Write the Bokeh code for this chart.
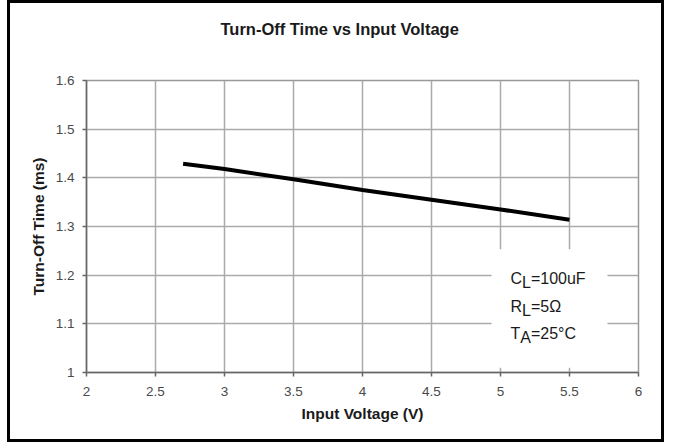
from bokeh.plotting import figure
from bokeh.models import Range1d, FixedTicker, BoxAnnotation, Label, Title
from bokeh.embed import file_html
from bokeh.resources import INLINE

# ---- data ----
volts = [2.7, 3.0, 3.5, 4.0, 4.5, 5.0, 5.5]
toff_ms = [1.429, 1.418, 1.397, 1.375, 1.355, 1.335, 1.314]
x_ticks = [2, 2.5, 3, 3.5, 4, 4.5, 5, 5.5, 6]
y_ticks = [1.0, 1.1, 1.2, 1.3, 1.4, 1.5, 1.6]
title_text = "Turn-Off Time vs Input Voltage"
x_label = "Input Voltage (V)"
y_label = "Turn-Off Time (ms)"
notes = [("C", "L", "=100uF"), ("R", "L", "=5Ω"), ("T", "A", "=25°C")]

FONT = "Liberation Sans"

p = figure(width=657, height=442, output_backend="svg", toolbar_location=None,
           x_range=Range1d(2, 6), y_range=Range1d(1, 1.6),
           min_border_left=76, min_border_right=29, min_border_top=77, min_border_bottom=73)
p.styles = {"border": "3px solid black", "margin-left": "7px"}
p.title = None

# blank spacer (nearest the frame) then the chart title above it
p.add_layout(Title(text=" ", text_font=FONT, text_font_size="37px", standoff=0), "above")
p.add_layout(Title(text=title_text, text_font=FONT, text_font_size="16.5px",
                   text_font_style="bold", text_color="#1a1a1a",
                   align="left", offset=134, standoff=0), "above")

p.line(volts, toff_ms, line_color="black", line_width=4)

for ax in (p.xaxis[0], p.yaxis[0]):
    ax.axis_line_color = "#666666"
    ax.axis_line_width = 1.5
    ax.major_tick_line_color = "#666666"
    ax.major_tick_line_width = 1.5
    ax.major_tick_in = 0
    ax.major_tick_out = 4
    ax.minor_tick_line_color = None
    ax.major_label_text_font = FONT
    ax.major_label_text_font_size = "13.5px"
    ax.major_label_text_color = "#4a4a4a"
    ax.axis_label_text_font = FONT
    ax.axis_label_text_font_size = "15.5px"
    ax.axis_label_text_font_style = "bold"
    ax.axis_label_text_color = "#1a1a1a"

p.xaxis.ticker = FixedTicker(ticks=x_ticks)
p.yaxis.ticker = FixedTicker(ticks=y_ticks)
p.xaxis.major_label_overrides = {t: f"{t:g}" for t in x_ticks}
p.yaxis.major_label_overrides = {t: f"{t:g}" for t in y_ticks}
p.xaxis.axis_label = x_label
p.yaxis.axis_label = y_label
p.xaxis.major_label_standoff = 10
p.yaxis.major_label_standoff = 8
p.xaxis.axis_label_standoff = 6
p.yaxis.axis_label_standoff = 6

p.xgrid.grid_line_color = "#aaaaaa"
p.ygrid.grid_line_color = "#aaaaaa"
p.xgrid.grid_line_width = 1.5
p.ygrid.grid_line_width = 1.5
p.xgrid.ticker = FixedTicker(ticks=x_ticks)
p.ygrid.ticker = FixedTicker(ticks=y_ticks)
p.outline_line_color = "#999999"
p.outline_line_width = 1.5

p.add_layout(BoxAnnotation(left=4.935, right=5.775, bottom=1.01, top=1.253,
                           fill_color="white", fill_alpha=1.0, line_color=None))

note_x = 5.072
note_y = [1.193, 1.136, 1.080]
main_w = {"C": 11.6, "R": 11.6, "T": 9.8}
sub_w = {"L": 8.9, "A": 10.7}
for (a, sub, rest), yy in zip(notes, note_y):
    common = dict(x=note_x, y=yy, text_font=FONT, text_font_size="16px",
                  text_color="#1a1a1a", text_baseline="middle", text_align="left")
    p.add_layout(Label(text=a, **common))
    p.add_layout(Label(text=sub, x_offset=main_w[a], y_offset=-4, **common))
    p.add_layout(Label(text=rest, x_offset=main_w[a] + sub_w[sub], **common))

open("out.html", "w").write(file_html(p, INLINE))
